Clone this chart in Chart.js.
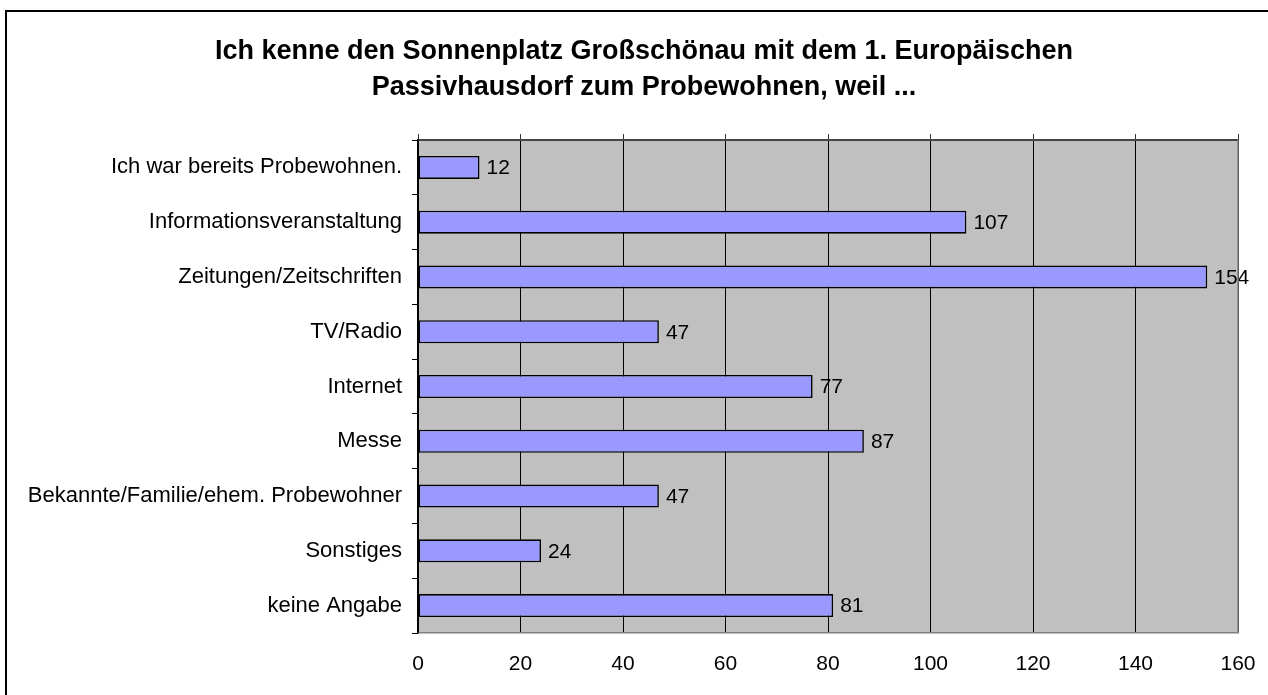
<!DOCTYPE html>
<html lang="de">
<head>
    <meta charset="UTF-8" />
    <title>Sonnenplatz Großschönau</title>
    <script src="https://cdn.jsdelivr.net/npm/chart.js"></script>
    <style>
        body { margin: 0; background: #fff; overflow: hidden; }
        #frame {
            position: absolute; left: 5px; top: 10px;
            width: 1400px; height: 800px;
            border-left: 2px solid #000; border-top: 2px solid #000;
        }
        #chart { position: absolute; left: 0; top: 0; }
    </style>
</head>
<body>
    <div id="frame"></div>
    <canvas id="chart" width="1268" height="695"></canvas>

    <script>
        const categories = [
            'Ich war bereits Probewohnen.',
            'Informationsveranstaltung',
            'Zeitungen/Zeitschriften',
            'TV/Radio',
            'Internet',
            'Messe',
            'Bekannte/Familie/ehem. Probewohner',
            'Sonstiges',
            'keine Angabe'
        ];
        const counts = [12, 107, 154, 47, 77, 87, 47, 24, 81];
        const xMin = 0, xMax = 160, xStep = 20;
        const titleLines = [
            'Ich kenne den Sonnenplatz Großschönau mit dem 1. Europäischen',
            'Passivhausdorf zum Probewohnen, weil ...'
        ];

        const FONT = '"Liberation Sans", Arial, sans-serif';

        // grey plot area, grey right edge and the two-line title
        const plotBg = {
            id: 'plotBg',
            beforeDraw(chart) {
                const { ctx, chartArea: a } = chart;
                ctx.save();
                ctx.fillStyle = '#C0C0C0';
                ctx.fillRect(a.left, a.top, a.right - a.left, a.bottom - a.top);
                ctx.restore();
            },
            afterDraw(chart) {
                const { ctx, chartArea: a } = chart;
                ctx.save();
                ctx.strokeStyle = '#808080';
                ctx.lineWidth = 1.5;
                ctx.beginPath();
                ctx.moveTo(a.right, a.top);
                ctx.lineTo(a.right, a.bottom);
                ctx.stroke();

                ctx.font = 'bold 27px ' + FONT;
                ctx.fillStyle = '#000';
                ctx.textAlign = 'center';
                ctx.textBaseline = 'middle';
                titleLines.forEach((line, i) => ctx.fillText(line, 644, 52 + i * 36));
                ctx.restore();
            }
        };

        // value labels at the end of each bar
        const barValues = {
            id: 'barValues',
            afterDatasetsDraw(chart) {
                const ctx = chart.ctx;
                const meta = chart.getDatasetMeta(0);
                ctx.save();
                ctx.font = '21px ' + FONT;
                ctx.fillStyle = '#000';
                ctx.textAlign = 'left';
                ctx.textBaseline = 'middle';
                meta.data.forEach((bar, i) => {
                    ctx.fillText(String(counts[i]), bar.x + 7, bar.y + 1);
                });
                ctx.restore();
            }
        };

        new Chart(document.getElementById('chart'), {
            type: 'bar',
            data: {
                labels: categories,
                datasets: [{
                    data: counts,
                    backgroundColor: '#9999FF',
                    borderColor: '#000',
                    borderWidth: 1.6,
                    borderSkipped: false,
                    barPercentage: 0.42,
                    categoryPercentage: 1
                }]
            },
            options: {
                indexAxis: 'y',
                responsive: false,
                animation: false,
                layout: { padding: { left: 0, right: 30, top: 134, bottom: 0 } },
                plugins: {
                    legend: { display: false },
                    tooltip: { enabled: false },
                    title: { display: false }
                },
                scales: {
                    x: {
                        position: 'bottom',
                        min: xMin, max: xMax,
                        grid: { color: '#000', lineWidth: 1, drawTicks: false },
                        border: { color: '#808080', width: 1.5 },
                        ticks: {
                            stepSize: xStep,
                            color: '#000',
                            padding: 5,
                            // tall line box pushes the labels down without widening the side padding
                            font: { family: FONT, size: 21, lineHeight: '52px' }
                        },
                        afterFit(s) { s.height = 62; }
                    },
                    x2: {
                        type: 'linear',
                        position: 'top',
                        min: xMin, max: xMax,
                        grid: { color: '#333', drawOnChartArea: false, tickLength: 6 },
                        border: { color: '#444', width: 2 },
                        ticks: { stepSize: xStep, display: false },
                        afterFit(s) { s.height = 6; }
                    },
                    y: {
                        grid: { color: '#000', drawOnChartArea: false, offset: true, tickLength: 6 },
                        border: { color: '#000', width: 1.5 },
                        ticks: {
                            color: '#000',
                            padding: 10,
                            font: { family: FONT, size: 22 }
                        },
                        afterFit(s) { s.width = 418; }
                    }
                }
            },
            plugins: [plotBg, barValues]
        });
    </script>
</body>
</html>
